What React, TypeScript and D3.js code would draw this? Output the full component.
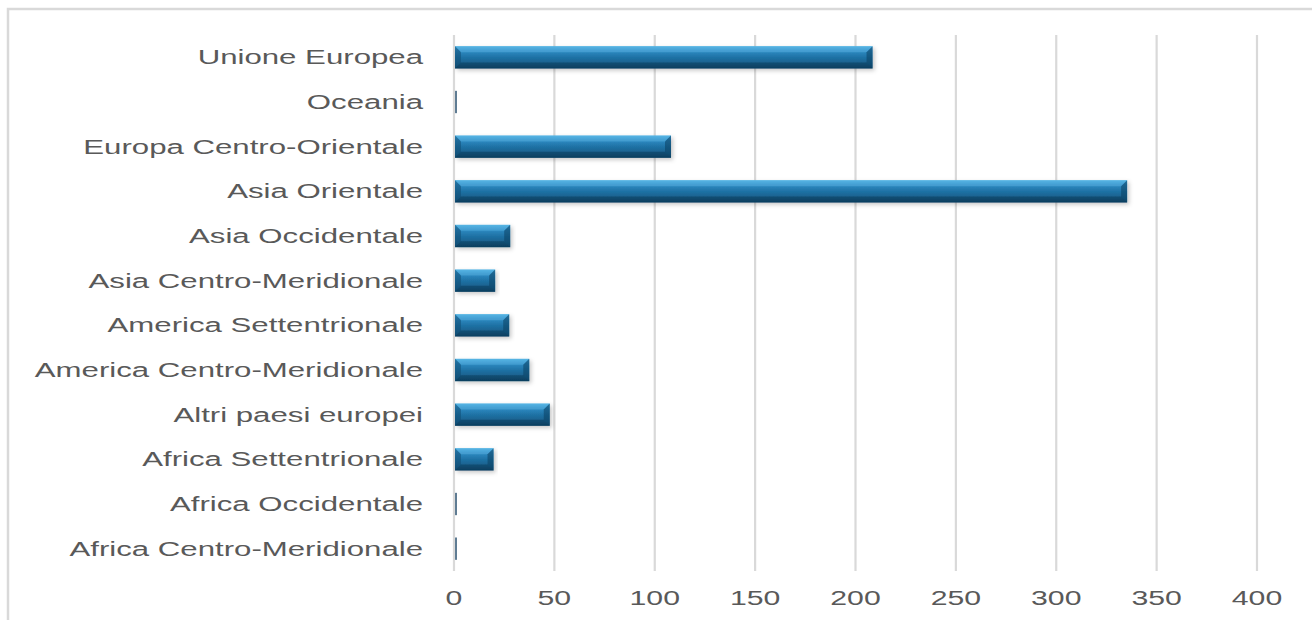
import React from "react";
import * as d3 from "d3";

const categories = [
  "Unione Europea",
  "Oceania",
  "Europa Centro-Orientale",
  "Asia Orientale",
  "Asia Occidentale",
  "Asia Centro-Meridionale",
  "America Settentrionale",
  "America Centro-Meridionale",
  "Altri paesi europei",
  "Africa Settentrionale",
  "Africa Occidentale",
  "Africa Centro-Meridionale",
];
const values = [208, 0.8, 107.6, 334.8, 27.5, 20, 27, 37, 47.2, 19.2, 0.8, 0.8];
const xTicks = [0, 50, 100, 150, 200, 250, 300, 350, 400];

const W = 1312;
const H = 620;
const SX_CAT = 1.6; // horizontal stretch of category text
const SX_TICK = 1.55;
const FONT = "'Liberation Sans', Arial, sans-serif";

export default function App() {
  const x = d3.scaleLinear().domain([0, 400]).range([454, 1257]);
  const y = d3
    .scaleBand<string>()
    .domain(categories)
    .range([35, 571])
    .paddingInner(0.5)
    .paddingOuter(0.25);
  const bw = y.bandwidth();

  return (
    <svg
      width={W}
      height={H}
      style={{ position: "absolute", left: 0, top: 0, background: "#fff" }}
    >
      <defs>
        <linearGradient id="barGrad" x1="0" y1="0" x2="0" y2="1">
          <stop offset="0" stopColor="#4aaee0" />
          <stop offset="0.2" stopColor="#2f8cc4" />
          <stop offset="0.5" stopColor="#1f72a5" />
          <stop offset="0.8" stopColor="#185e8a" />
          <stop offset="1" stopColor="#0e486d" />
        </linearGradient>
        <filter id="shadow" x="-5%" y="-30%" width="115%" height="170%">
          <feDropShadow dx="2" dy="2" stdDeviation="2" floodColor="#000" floodOpacity="0.22" />
        </filter>
      </defs>

      {/* chart frame */}
      <rect x={8} y={9} width={W + 20} height={H + 20} fill="#fff" stroke="#d9d9d9" strokeWidth={2.5} />

      {/* gridlines */}
      {xTicks.map((t) => (
        <line key={"g" + t} x1={x(t)} x2={x(t)} y1={35} y2={571} stroke="#d9d9d9" strokeWidth={2.2} />
      ))}

      {/* x tick labels */}
      {xTicks.map((t) => (
        <g key={"t" + t} transform={`translate(${x(t)},605) scale(${SX_TICK},1)`}>
          <text textAnchor="middle" fontFamily={FONT} fontSize={19.5} fill="#595959">
            {t}
          </text>
        </g>
      ))}

      {/* category labels */}
      {categories.map((c) => (
        <g key={"l" + c} transform={`translate(423,${(y(c) as number) + bw / 2 + 7}) scale(${SX_CAT},1)`}>
          <text textAnchor="end" fontFamily={FONT} fontSize={19.5} fill="#595959">
            {c}
          </text>
        </g>
      ))}

      {/* bars */}
      {categories.map((c, i) => {
        const x0 = x(0) + 1;
        const x1 = x(values[i]) + 1;
        const y0 = y(c) as number;
        const y1 = y0 + bw;
        const w = x1 - x0;
        if (w < 4) {
          return (
            <rect key={"b" + c} x={x0} y={y0} width={Math.max(w, 2)} height={bw} fill="#5f7c93" />
          );
        }
        const b = Math.min(6, w / 2);
        return (
          <g key={"b" + c}>
            <rect x={x0} y={y0} width={w} height={bw} fill="url(#barGrad)" filter="url(#shadow)" />
            <polygon
              points={`${x0},${y0} ${x1},${y0} ${x1 - b},${y0 + b} ${x0 + b},${y0 + b}`}
              fill="#6cc3ee"
              opacity={0.35}
            />
            <polygon
              points={`${x0},${y0} ${x0 + b},${y0 + b} ${x0 + b},${y1 - b} ${x0},${y1}`}
              fill="#0d4a70"
              opacity={0.5}
            />
            <polygon
              points={`${x1},${y0} ${x1 - b},${y0 + b} ${x1 - b},${y1 - b} ${x1},${y1}`}
              fill="#0b3f60"
              opacity={0.55}
            />
            <polygon
              points={`${x0},${y1} ${x0 + b},${y1 - b} ${x1 - b},${y1 - b} ${x1},${y1}`}
              fill="#082f48"
              opacity={0.4}
            />
          </g>
        );
      })}
    </svg>
  );
}
